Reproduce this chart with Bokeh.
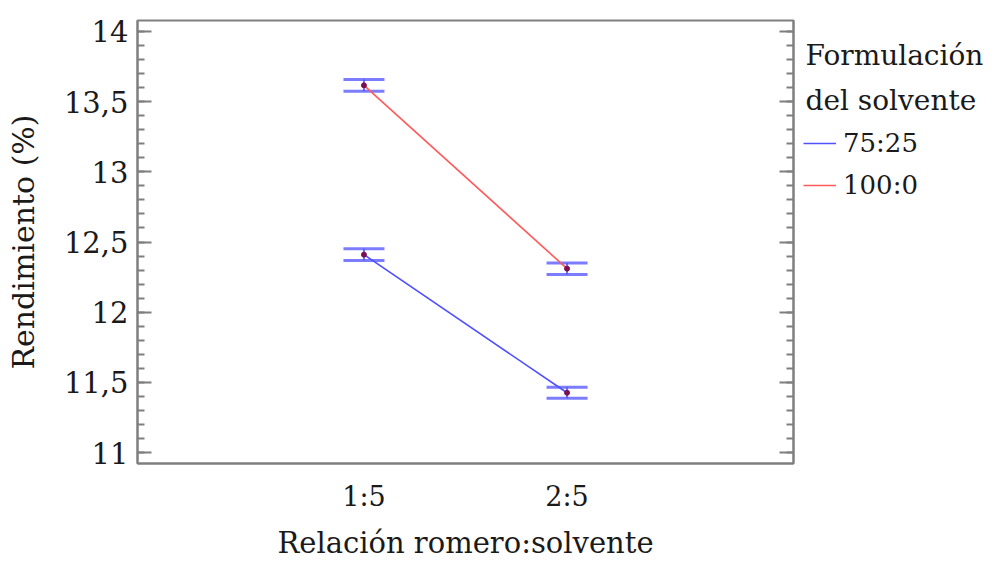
from bokeh.plotting import figure
from bokeh.layouts import row
from bokeh.models import (ColumnDataSource, Whisker, TeeHead, LinearAxis, Legend, LegendItem,
                          SingleIntervalTicker, FixedTicker, Range1d, CustomJSTickFormatter)
from bokeh.core.properties import value
from bokeh.embed import file_html
from bokeh.resources import INLINE

# ---- data ----
categories = ["1:5", "2:5"]
x_pos = [1, 2]
series_names = ["75:25", "100:0"]
legend_title_lines = ["Formulación", "del solvente"]
values_7525 = [12.41, 11.426]
err_7525 = [0.042, 0.039]
values_1000 = [13.616, 12.31]
err_1000 = [0.042, 0.041]
y_ticks = [11, 11.5, 12, 12.5, 13, 13.5, 14]
y_tick_labels = ["11", "11,5", "12", "12,5", "13", "13,5", "14"]

FONT = "DejaVu Serif"
TXT = "#1a1a1a"
GREY = "#7f7f7f"
BLUE = "#5050ff"
RED = "#ff5a5a"
NAN = float("nan")

p = figure(frame_width=656, frame_height=443,
           x_range=Range1d(-0.115, 3.115), y_range=Range1d(10.922, 14.078),
           output_backend="svg", toolbar_location=None,
           min_border_left=137, min_border_right=2, min_border_top=20, min_border_bottom=92,
           x_axis_label="Relación romero:solvente", y_axis_label="Rendimiento (%)")
p.grid.visible = False
p.outline_line_color = GREY
p.outline_line_width = 2
p.background_fill_color = "white"
p.border_fill_color = "white"

r_blue = p.line(x_pos, values_7525, line_color=BLUE, line_width=1.6)
r_red = p.line(x_pos, values_1000, line_color=RED, line_width=1.6)

for vals, errs in ((values_7525, err_7525), (values_1000, err_1000)):
    src = ColumnDataSource(dict(x=x_pos, y=vals,
                                upper=[v + e for v, e in zip(vals, errs)],
                                lower=[v - e for v, e in zip(vals, errs)]))
    w = Whisker(base="x", upper="upper", lower="lower", source=src,
                line_color=BLUE, line_width=2, line_alpha=0.8,
                upper_head=TeeHead(size=41, line_color=BLUE, line_width=3, line_alpha=0.75),
                lower_head=TeeHead(size=41, line_color=BLUE, line_width=3, line_alpha=0.75))
    p.add_layout(w)
    p.scatter("x", "y", source=src, size=5, color="#7a1050")

xa = p.xaxis[0]
xa.ticker = FixedTicker(ticks=x_pos)
xa.major_label_overrides = {x: c for x, c in zip(x_pos, categories)}
xa.major_tick_in = 0
xa.major_tick_out = 0
xa.minor_tick_in = 0
xa.minor_tick_out = 0
xa.axis_line_color = GREY
xa.axis_line_width = 2
xa.major_label_standoff = 17
xa.major_label_text_font = FONT
xa.major_label_text_font_size = "27px"
xa.major_label_text_color = TXT
xa.axis_label_text_font = FONT
xa.axis_label_text_font_size = "29px"
xa.axis_label_text_font_style = "normal"
xa.axis_label_text_color = TXT
xa.axis_label_standoff = 11

def style_y(ax):
    ax.ticker = SingleIntervalTicker(interval=0.5, num_minor_ticks=5)
    ax.axis_line_color = GREY
    ax.axis_line_width = 2
    ax.major_tick_in = 14
    ax.major_tick_out = 0
    ax.minor_tick_in = 7
    ax.minor_tick_out = 0
    ax.major_tick_line_color = GREY
    ax.minor_tick_line_color = GREY
    ax.major_tick_line_width = 2
    ax.minor_tick_line_width = 2

ya = p.yaxis[0]
style_y(ya)
ya.major_label_overrides = {t: l for t, l in zip(y_ticks, y_tick_labels)}
ya.major_label_standoff = 9
ya.major_label_text_font = FONT
ya.major_label_text_font_size = "29px"
ya.major_label_text_color = TXT
ya.axis_label_text_font = FONT
ya.axis_label_text_font_size = "30px"
ya.axis_label_text_font_style = "normal"
ya.axis_label_text_color = TXT
ya.axis_label_standoff = 20

ra = LinearAxis(formatter=CustomJSTickFormatter(code="return ''"))
style_y(ra)
ra.major_label_standoff = 0
p.add_layout(ra, "right")

# ---- legend panel (separate figure so nothing is clipped) ----
p2 = figure(frame_width=200, frame_height=523, x_range=Range1d(0, 200), y_range=Range1d(523, 0),
            output_backend="svg", toolbar_location=None,
            min_border_left=0, min_border_right=0, min_border_top=20, min_border_bottom=2)
p2.axis.visible = False
p2.grid.visible = False
p2.outline_line_color = None
p2.border_fill_color = "white"
p2.text(x=[10, 10], y=[35, 80], text=legend_title_lines,
        text_font=value(FONT), text_font_size="28px", text_color=TXT,
        text_baseline="middle", text_align="left")
lb = p2.line([NAN], [NAN], line_color=BLUE, line_width=1.6)
lr = p2.line([NAN], [NAN], line_color=RED, line_width=1.6)
leg = Legend(items=[LegendItem(label=series_names[0], renderers=[lb]),
                    LegendItem(label=series_names[1], renderers=[lr])],
             location=(8, 523 - 102 - 84))
leg.label_text_font = FONT
leg.label_text_font_size = "26px"
leg.label_text_color = TXT
leg.glyph_width = 33
leg.glyph_height = 42
leg.label_height = 42
leg.label_standoff = 7
leg.spacing = 0
leg.padding = 0
leg.margin = 0
leg.border_line_color = None
leg.background_fill_alpha = 0
p2.add_layout(leg, "center")

open("out.html", "w").write(file_html(row(p, p2), INLINE))
